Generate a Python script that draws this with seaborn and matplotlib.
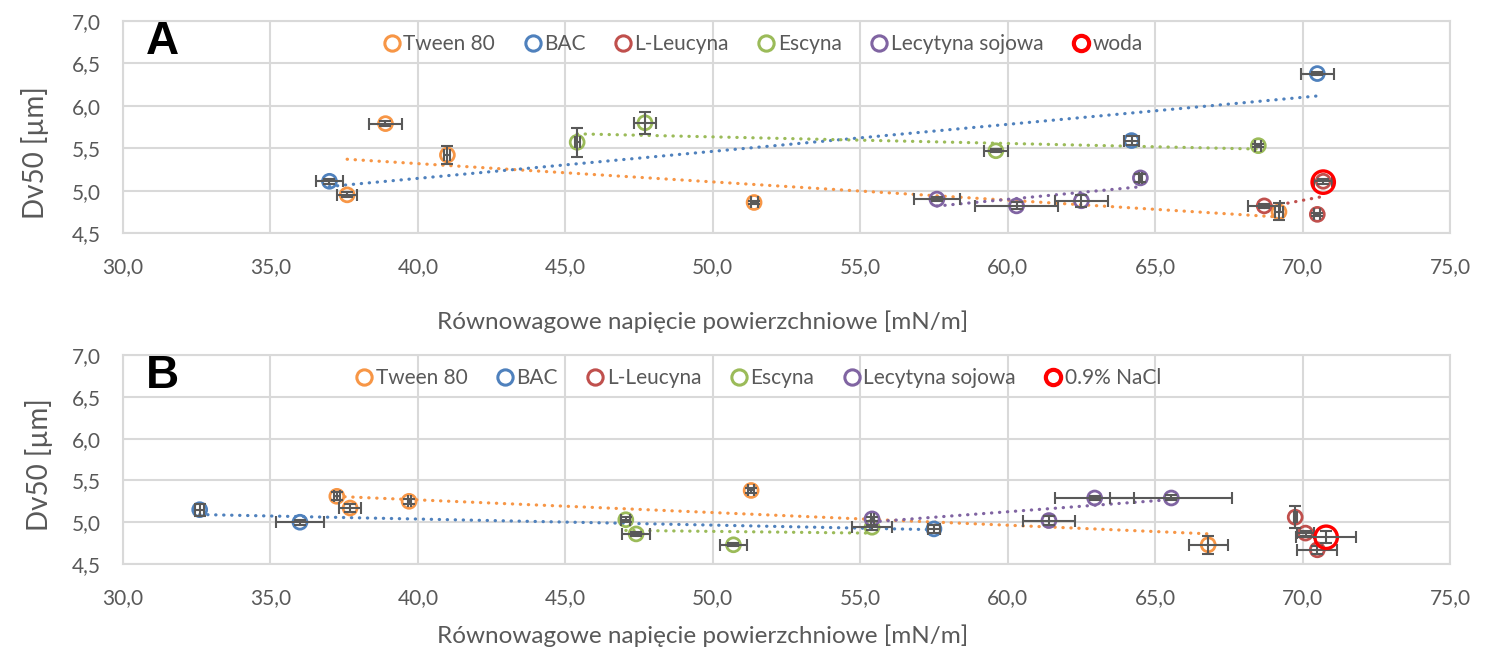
import matplotlib
matplotlib.use("Agg")
import matplotlib.pyplot as plt
import seaborn as sns
from matplotlib.lines import Line2D
from matplotlib.ticker import FuncFormatter, MultipleLocator

# ---- data ----
names = ["Tween 80", "BAC", "L-Leucyna", "Escyna", "Lecytyna sojowa"]
colors = ["#F79646", "#4F81BD", "#C0504D", "#9BBB59", "#8064A2"]

# Panel A
a_tween_x = [38.9, 41.0, 37.6, 51.4, 69.2]
a_tween_y = [5.79, 5.42, 4.95, 4.86, 4.75]
a_tween_xerr = [0.55, 0.10, 0.35, 0.12, 0.15]
a_tween_yerr = [0.03, 0.11, 0.03, 0.02, 0.10]

a_bac_x = [37.0, 64.2, 70.5]
a_bac_y = [5.11, 5.59, 6.38]
a_bac_xerr = [0.47, 0.25, 0.55]
a_bac_yerr = [0.03, 0.05, 0.02]

a_leu_x = [68.7, 70.5, 70.7]
a_leu_y = [4.82, 4.72, 5.11]
a_leu_xerr = [0.55, 0.10, 0.30]
a_leu_yerr = [0.02, 0.02, 0.03]

a_esc_x = [45.4, 47.7, 59.6, 68.5]
a_esc_y = [5.57, 5.80, 5.47, 5.53]
a_esc_xerr = [0.08, 0.38, 0.41, 0.10]
a_esc_yerr = [0.17, 0.13, 0.02, 0.02]

a_lec_x = [57.6, 60.3, 62.5, 64.5]
a_lec_y = [4.90, 4.82, 4.88, 5.15]
a_lec_xerr = [0.78, 1.40, 0.90, 0.05]
a_lec_yerr = [0.02, 0.04, 0.07, 0.05]

a_ref_name = "woda"
a_ref_x = [70.7]
a_ref_y = [5.10]

# Panel B
b_tween_x = [37.25, 37.7, 39.7, 51.3, 66.8]
b_tween_y = [5.31, 5.17, 5.25, 5.38, 4.73]
b_tween_xerr = [0.10, 0.36, 0.05, 0.10, 0.66]
b_tween_yerr = [0.05, 0.05, 0.03, 0.03, 0.11]

b_bac_x = [32.6, 36.0, 57.5]
b_bac_y = [5.15, 5.00, 4.92]
b_bac_xerr = [0.15, 0.80, 0.20]
b_bac_yerr = [0.07, 0.03, 0.05]

b_leu_x = [69.75, 70.1, 70.5]
b_leu_y = [5.06, 4.87, 4.67]
b_leu_xerr = [0.05, 0.30, 0.68]
b_leu_yerr = [0.13, 0.03, 0.05]

b_esc_x = [47.05, 47.4, 50.7, 55.4]
b_esc_y = [5.03, 4.86, 4.73, 4.94]
b_esc_xerr = [0.15, 0.47, 0.45, 0.68]
b_esc_yerr = [0.03, 0.02, 0.02, 0.03]

b_lec_x = [55.4, 61.4, 62.95, 65.55]
b_lec_y = [5.04, 5.02, 5.29, 5.29]
b_lec_xerr = [0.05, 0.88, 1.33, 2.07]
b_lec_yerr = [0.02, 0.05, 0.02, 0.03]

b_ref_name = "0.9% NaCl"
b_ref_x = [70.8]
b_ref_y = [4.82]
b_ref_xerr = [1.02]
b_ref_yerr = [0.07]

x_ticks = [30, 35, 40, 45, 50, 55, 60, 65, 70, 75]
y_ticks = [4.5, 5.0, 5.5, 6.0, 6.5, 7.0]

GRID = "#D9D9D9"
TEXT = "#595959"
FONT = ["Lato", "DejaVu Sans"]


def comma(v, _):
    return f"{v:.1f}".replace(".", ",")


def draw_panel(ax, series, trend, ref_name, ref_x, ref_y, ref_err, letter, leg_x):
    for (x, y, xe, ye), name, col, fit in zip(series, names, colors, trend):
        if fit:
            sns.regplot(x=x, y=y, ax=ax, scatter=False, ci=None, truncate=True,
                        color=col,
                        line_kws=dict(lw=2.3, ls=(0, (0.1, 2.4)),
                                      dash_capstyle="round", zorder=2))
        sns.scatterplot(x=x, y=y, ax=ax, s=100, color=col, facecolor="none",
                        edgecolor=col, linewidth=2.0, zorder=3, legend=False)
        ax.errorbar(x, y, xerr=xe, yerr=ye, fmt="none", ecolor=TEXT,
                    elinewidth=1.5, capsize=4, capthick=1.5, zorder=4)

    sns.scatterplot(x=ref_x, y=ref_y, ax=ax, s=260, color="red", facecolor="none",
                    edgecolor="red", linewidth=2.4, zorder=5, legend=False)
    if ref_err is not None:
        ax.errorbar(ref_x, ref_y, xerr=ref_err[0], yerr=ref_err[1], fmt="none",
                    ecolor=TEXT, elinewidth=1.5, capsize=4, capthick=1.5, zorder=6)

    ax.set_xlim(x_ticks[0], x_ticks[-1])
    ax.set_ylim(y_ticks[0], y_ticks[-1])
    ax.xaxis.set_major_locator(MultipleLocator(5))
    ax.yaxis.set_major_locator(MultipleLocator(0.5))
    ax.xaxis.set_major_formatter(FuncFormatter(comma))
    ax.yaxis.set_major_formatter(FuncFormatter(comma))
    ax.grid(True, color=GRID, lw=1.5)
    ax.set_axisbelow(True)
    for sp in ax.spines.values():
        sp.set_color(GRID)
        sp.set_linewidth(1.5)
    ax.tick_params(axis="x", length=0, pad=17, labelsize=15, labelcolor=TEXT)
    ax.tick_params(axis="y", length=0, pad=16, labelsize=15, labelcolor=TEXT)

    ax.set_ylabel("Dv50 [µm]", fontsize=20, color=TEXT)
    ax.set_xlabel("Równowagowe napięcie powierzchniowe [mN/m]", fontsize=17.5, color=TEXT)

    handles = [Line2D([], [], ls="none", marker="o", ms=11, mfc="none", mec=c, mew=2.2)
               for c in colors]
    handles.append(Line2D([], [], ls="none", marker="o", ms=11, mfc="none", mec="red", mew=3))
    leg = ax.legend(handles, names + [ref_name], ncol=6, loc="center",
                    bbox_to_anchor=(leg_x, 0.89), frameon=False, fontsize=15,
                    handletextpad=0.05, columnspacing=1.3, handlelength=1.0)
    for t in leg.get_texts():
        t.set_color(TEXT)

    ax.text(0.017, 0.90, letter, transform=ax.transAxes, ha="left", va="center",
            fontsize=33, fontweight="bold", color="black",
            family=["Liberation Sans", "DejaVu Sans"])


sns.set_theme(style="whitegrid")
plt.rcParams["font.family"] = FONT

fig = plt.figure(figsize=(15.04, 6.48), dpi=100)
ax_a = fig.add_axes([0.0818, 0.6404, 0.8823, 0.3272])
ax_b = fig.add_axes([0.0818, 0.1296, 0.8823, 0.3225])

series_a = [
    (a_tween_x, a_tween_y, a_tween_xerr, a_tween_yerr),
    (a_bac_x, a_bac_y, a_bac_xerr, a_bac_yerr),
    (a_leu_x, a_leu_y, a_leu_xerr, a_leu_yerr),
    (a_esc_x, a_esc_y, a_esc_xerr, a_esc_yerr),
    (a_lec_x, a_lec_y, a_lec_xerr, a_lec_yerr),
]
series_b = [
    (b_tween_x, b_tween_y, b_tween_xerr, b_tween_yerr),
    (b_bac_x, b_bac_y, b_bac_xerr, b_bac_yerr),
    (b_leu_x, b_leu_y, b_leu_xerr, b_leu_yerr),
    (b_esc_x, b_esc_y, b_esc_xerr, b_esc_yerr),
    (b_lec_x, b_lec_y, b_lec_xerr, b_lec_yerr),
]

draw_panel(ax_a, series_a, [True, True, True, True, True],
           a_ref_name, a_ref_x, a_ref_y, None, "A", 0.4815)
draw_panel(ax_b, series_b, [True, True, False, True, True],
           b_ref_name, b_ref_x, b_ref_y, (b_ref_xerr, b_ref_yerr), "B", 0.478)

# label placement as in the reference (not centred on the axes)
ax_a.xaxis.set_label_coords(0.437, -0.365)
ax_b.xaxis.set_label_coords(0.437, -0.29)
ax_a.yaxis.set_label_coords(-0.056, 0.377)
ax_b.yaxis.set_label_coords(-0.053, 0.474)

fig.savefig("out.png", dpi=100, facecolor="white")
